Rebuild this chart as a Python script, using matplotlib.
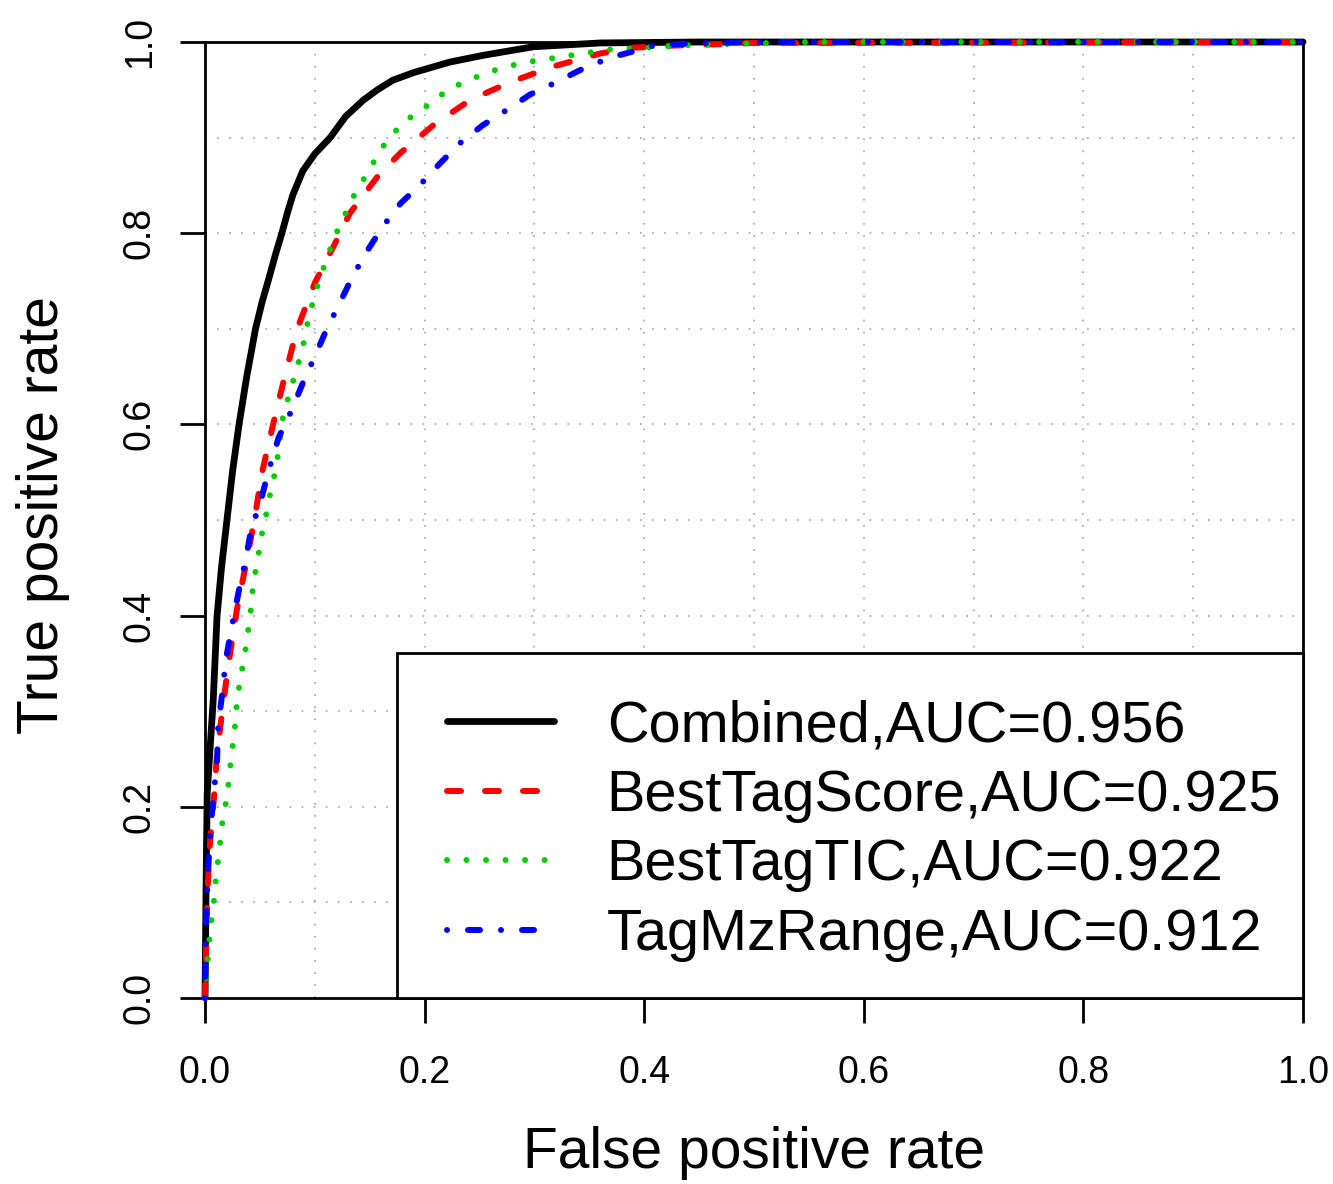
import numpy as np
import matplotlib
matplotlib.use("Agg")
import matplotlib.pyplot as plt
from matplotlib.patches import Rectangle

plt.rcParams['font.family'] = ['Liberation Sans', 'DejaVu Sans']
plt.rcParams['lines.scale_dashes'] = False

# ROC curves (false positive rate, true positive rate)
fpr_comb = [0, 0.001, 0.002, 0.0075, 0.011, 0.015, 0.020, 0.025, 0.031, 0.038, 0.046,
            0.052, 0.058, 0.064, 0.070, 0.075, 0.080, 0.089, 0.100, 0.114, 0.128, 0.144,
            0.157, 0.171, 0.19, 0.208, 0.223, 0.253, 0.299, 0.36, 0.45, 1.0]
tpr_comb = [0, 0.12, 0.214, 0.312, 0.40, 0.45, 0.50, 0.55, 0.60, 0.65, 0.70,
            0.728, 0.752, 0.777, 0.80, 0.821, 0.840, 0.865, 0.883, 0.90, 0.922, 0.939,
            0.95, 0.96, 0.968, 0.974, 0.979, 0.986, 0.995, 0.999, 1.0, 1.0]

fpr_score = [0, 0.002, 0.004, 0.008, 0.011, 0.017, 0.022, 0.029, 0.038, 0.045, 0.052,
             0.062, 0.073, 0.084, 0.100, 0.117, 0.132, 0.157, 0.178, 0.208, 0.241,
             0.278, 0.316, 0.36, 0.39, 0.42, 0.5, 1.0]
tpr_score = [0, 0.10, 0.155, 0.207, 0.256, 0.312, 0.354, 0.406, 0.458, 0.50, 0.55,
             0.60, 0.652, 0.70, 0.748, 0.786, 0.821, 0.859, 0.884, 0.913, 0.939,
             0.958, 0.974, 0.988, 0.994, 0.996, 0.999, 1.0]

fpr_tic = [0, 0.003, 0.005, 0.008, 0.010, 0.013, 0.015, 0.019, 0.022, 0.024, 0.027,
           0.029, 0.032, 0.036, 0.039, 0.042, 0.044, 0.048, 0.051, 0.056, 0.060,
           0.065, 0.068, 0.071, 0.077, 0.083, 0.089, 0.093, 0.098, 0.104, 0.118,
           0.135, 0.154, 0.164, 0.176, 0.19, 0.206, 0.221, 0.238, 0.257, 0.277,
           0.299, 0.322, 0.344, 0.368, 0.417, 0.443, 0.55, 1.0]
tpr_tic = [0, 0.048, 0.074, 0.10, 0.127, 0.153, 0.178, 0.204, 0.229, 0.254, 0.28,
           0.308, 0.333, 0.357, 0.382, 0.408, 0.434, 0.458, 0.481, 0.507, 0.531,
           0.556, 0.582, 0.608, 0.633, 0.656, 0.68, 0.704, 0.727, 0.751, 0.796,
           0.838, 0.875, 0.894, 0.91, 0.924, 0.936, 0.95, 0.959, 0.968, 0.975,
           0.98, 0.984, 0.988, 0.992, 0.995, 0.997, 1.0, 1.0]

fpr_mz = [0, 0.001, 0.003, 0.005, 0.008, 0.011, 0.012, 0.016, 0.019, 0.025, 0.031,
          0.037, 0.042, 0.051, 0.058, 0.067, 0.079, 0.089, 0.10, 0.111, 0.121,
          0.135, 0.148, 0.162, 0.178, 0.197, 0.214, 0.232, 0.253, 0.275, 0.296,
          0.32, 0.344, 0.37, 0.393, 0.408, 0.433, 0.5, 1.0]
tpr_mz = [0, 0.085, 0.137, 0.176, 0.214, 0.249, 0.284, 0.322, 0.354, 0.392, 0.427,
          0.458, 0.49, 0.521, 0.552, 0.586, 0.615, 0.643, 0.671, 0.70, 0.723,
          0.756, 0.782, 0.807, 0.831, 0.852, 0.873, 0.894, 0.913, 0.929, 0.945,
          0.958, 0.972, 0.984, 0.991, 0.996, 0.998, 1.0, 1.0]

labels = ['Combined,AUC=0.956', 'BestTagScore,AUC=0.925',
          'BestTagTIC,AUC=0.922', 'TagMzRange,AUC=0.912']
colors = ['black', '#ff0000', '#00cd00', '#0000ff']

px = 0.72  # points per pixel at dpi 100
widths = [6.8 * px, 6.0 * px, 6.0 * px, 6.0 * px]
styles = ['-',
          (0, (14 * px, 24 * px)),
          (0, (0.01, 19.5 * px)),
          (0, (0.01, 21 * px, 12 * px, 21 * px))]

fig = plt.figure(figsize=(13.33, 11.84), dpi=100)
ax = fig.add_axes([205 / 1333, 1 - 998 / 1184, 1098 / 1333, 956 / 1184])

curves = [(fpr_comb, tpr_comb), (fpr_score, tpr_score), (fpr_tic, tpr_tic), (fpr_mz, tpr_mz)]
handles = []
for (x, y), lab, c, ls, w in zip(curves, labels, colors, styles, widths):
    h, = ax.plot(x, y, color=c, lw=w, linestyle=ls, label=lab,
                 dash_capstyle='round', solid_capstyle='round', solid_joinstyle='round',
                 clip_on=False, zorder=3)
    handles.append(h)

ax.set_xlim(0, 1)
ax.set_ylim(0, 1)

# dotted grid every 0.1
for g in np.arange(0.1, 1.0, 0.1):
    ax.axvline(g, color='#b0b0b0', lw=1.4, linestyle=(0, (1.2, 7.5)), zorder=1)
    ax.axhline(g, color='#b0b0b0', lw=1.4, linestyle=(0, (1.2, 7.5)), zorder=1)

ticks = [0.0, 0.2, 0.4, 0.6, 0.8, 1.0]
ax.set_xticks(ticks)
ax.set_yticks(ticks)
ax.set_xticklabels(['%.1f' % t for t in ticks])
ax.set_yticklabels(['%.1f' % t for t in ticks], rotation=90, va='center')
ax.tick_params(axis='both', length=25 * px, width=2.0, labelsize=27)
ax.tick_params(axis='x', pad=23)
ax.tick_params(axis='y', pad=16)
for s in ax.spines.values():
    s.set_linewidth(2.0)

ax.set_xlabel('False positive rate', fontsize=41)
ax.xaxis.set_label_coords(0.5, -0.134)
ax.set_ylabel('True positive rate', fontsize=41)
ax.yaxis.set_label_coords(-0.123, 0.505)

# legend box (white, covers the grid)
box = Rectangle((0.175, 0.0), 0.825, 0.361, transform=ax.transAxes,
                facecolor='white', edgecolor='black', lw=2.0, zorder=4, clip_on=False)
ax.add_patch(box)
ax.legend(handles=handles, loc='center left', bbox_to_anchor=(0.2204, 0.175),
          frameon=False, fontsize=41.5, handlelength=1.85, handletextpad=0.92,
          labelspacing=0.27, borderpad=0, borderaxespad=0)

fig.savefig('out.png', dpi=100)
